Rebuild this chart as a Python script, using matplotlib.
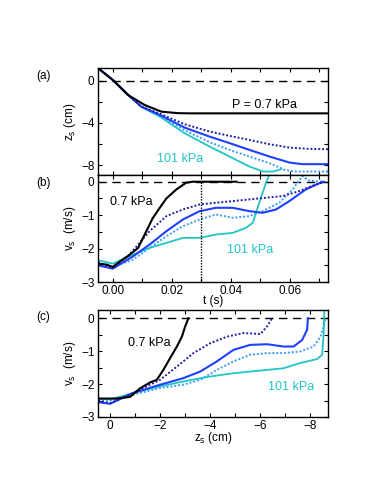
import matplotlib
matplotlib.use("Agg")
import matplotlib.pyplot as plt
import matplotlib.ticker as ticker

# ── data ──────────────────────────────────────────────────────────────────────
# (a) z_s (cm) vs t (s)
t_blk_z = [-0.005, 0.0003, 0.0052, 0.0108, 0.0165, 0.0221, 0.026, 0.073]
z_blk   = [1.2, 0.0, -1.36, -2.3, -2.94, -3.08, -3.1, -3.1]

t_dkd_z = [-0.005, 0.0003, 0.005, 0.0097, 0.0165, 0.0244, 0.0329, 0.0397, 0.0464, 0.0532, 0.060, 0.0668, 0.073]
z_dkd   = [1.2, 0.0, -1.3, -2.45, -3.19, -4.13, -4.83, -5.24, -5.62, -6.03, -6.35, -6.47, -6.5]

t_blu_z = [-0.005, 0.0003, 0.005, 0.0097, 0.0165, 0.0244, 0.0329, 0.0397, 0.0464, 0.0532, 0.060, 0.0643, 0.073]
z_blu   = [1.2, 0.0, -1.3, -2.46, -3.32, -4.45, -5.31, -5.93, -6.57, -7.2, -7.77, -7.92, -7.92]

t_ltd_z = [-0.005, 0.0003, 0.005, 0.0097, 0.0165, 0.0244, 0.0329, 0.0397, 0.0464, 0.0532, 0.0583, 0.0617, 0.073]
z_ltd   = [1.2, 0.0, -1.3, -2.47, -3.41, -4.7, -5.84, -6.57, -7.2, -7.83, -8.46, -8.62, -8.62]

t_cyn_z = [-0.005, 0.0003, 0.005, 0.0097, 0.0165, 0.0244, 0.0329, 0.0374, 0.0419, 0.0464, 0.051, 0.0543, 0.0572]
z_cyn   = [1.2, 0.0, -1.3, -2.48, -3.5, -4.99, -6.26, -6.88, -7.52, -8.15, -8.62, -8.62, -8.4]

# (b) v_s (m/s) vs t (s)
t_blk_v = [-0.005, -0.002, 0.0, 0.003, 0.0055, 0.0086, 0.0114, 0.0135, 0.0158, 0.0182, 0.0216, 0.0249, 0.027, 0.042]
v_blk   = [-2.45, -2.48, -2.55, -2.35, -2.2, -1.98, -1.48, -1.1, -0.8, -0.5, -0.23, -0.03, 0.0, 0.0]

t_dkd_v = [-0.005, 0.0, 0.0055, 0.0125, 0.0182, 0.0238, 0.0295, 0.035, 0.0407, 0.0463, 0.052, 0.0576, 0.0633, 0.069, 0.0723]
v_dkd   = [-2.41, -2.58, -2.2, -1.48, -1.03, -0.83, -0.68, -0.63, -0.58, -0.53, -0.48, -0.43, -0.28, -0.08, 0.0]

t_blu_v = [-0.005, 0.0, 0.0069, 0.0125, 0.0182, 0.0238, 0.0295, 0.035, 0.0407, 0.0463, 0.0508, 0.0554, 0.0599, 0.0655, 0.0712]
v_blu   = [-2.5, -2.6, -2.23, -1.88, -1.48, -1.13, -0.88, -0.78, -0.78, -0.88, -0.93, -0.83, -0.58, -0.23, 0.0]

t_ltd_v = [-0.005, 0.0, 0.0069, 0.0125, 0.0182, 0.0238, 0.0295, 0.035, 0.0407, 0.0463, 0.0508, 0.0565, 0.061, 0.0644, 0.0667, 0.0712]
v_ltd   = [-2.45, -2.55, -2.33, -1.98, -1.63, -1.33, -1.13, -0.98, -1.08, -1.03, -0.88, -0.63, -0.23, 0.17, 0.03, 0.0]

t_cyn_v = [-0.005, 0.0, 0.0069, 0.0125, 0.0182, 0.0238, 0.0295, 0.035, 0.0407, 0.0452, 0.0475, 0.0497, 0.052, 0.0545]
v_cyn   = [-2.35, -2.45, -2.18, -1.98, -1.83, -1.68, -1.68, -1.58, -1.53, -1.38, -1.23, -0.63, -0.03, 0.5]

# (c) v_s (m/s) vs z_s (cm)
z_blk_c = [0.47, -0.27, -0.8, -1.2, -1.6, -1.87, -2.13, -2.4, -2.67, -2.87, -3.0, -3.13]
v_blk_c = [-2.44, -2.44, -2.39, -2.13, -1.95, -1.87, -1.57, -1.21, -0.86, -0.56, -0.25, 0.0]

z_dkd_c = [0.47, 0.0, -0.93, -2.0, -2.67, -3.33, -4.0, -4.67, -5.33, -6.0, -6.27, -6.47]
v_dkd_c = [-2.5, -2.58, -2.27, -1.87, -1.47, -1.06, -0.76, -0.56, -0.45, -0.48, -0.25, 0.0]

z_blu_c = [0.47, 0.0, -0.93, -2.0, -2.93, -3.6, -4.27, -4.93, -5.6, -6.27, -6.93, -7.33, -7.67, -7.87, -7.9]
v_blu_c = [-2.55, -2.6, -2.27, -2.02, -1.82, -1.62, -1.31, -0.96, -0.81, -0.79, -0.86, -0.86, -0.66, -0.35, 0.0]

z_ltd_c = [0.47, 0.0, -0.93, -2.0, -2.93, -3.6, -4.27, -4.93, -5.6, -6.27, -6.93, -7.6, -8.13, -8.4, -8.55, -8.6]
v_ltd_c = [-2.48, -2.5, -2.32, -2.12, -2.02, -1.87, -1.57, -1.31, -1.11, -1.06, -1.06, -1.01, -0.86, -0.56, -0.2, 0.0]

z_cyn_c = [0.47, 0.0, -0.93, -2.0, -2.93, -4.0, -4.93, -5.6, -6.27, -6.93, -7.6, -8.27, -8.47, -8.53, -8.56]
v_cyn_c = [-2.44, -2.47, -2.27, -2.07, -1.92, -1.77, -1.67, -1.62, -1.57, -1.52, -1.36, -1.24, -1.11, -0.45, 0.3]

# ── style ─────────────────────────────────────────────────────────────────────
plt.rcParams.update({
    "font.family":       ["Liberation Sans", "DejaVu Sans"],
    "font.size":         8.5,
    "axes.linewidth":    1.0,
    "xtick.direction":   "in",
    "ytick.direction":   "in",
    "xtick.top":         True,
    "ytick.right":       True,
    "xtick.major.size":  3,
    "ytick.major.size":  3,
    "xtick.major.pad":   2,
    "ytick.major.pad":   2.5,
})

BLACK = "black"
NAVY  = "#2020a8"
BLUE  = "#1f40ff"
LIGHT = "#3a9cff"
CYAN  = "#22c4c4"
DOTS  = (0, (1, 1))

fig = plt.figure(figsize=(3.82, 4.94), dpi=100)
L, W, H = 0.2565, 0.602, 0.2166
ax_a = fig.add_axes([L, 0.6457, W, H])
ax_b = fig.add_axes([L, 0.4291, W, H])
ax_c = fig.add_axes([L, 0.1559, W, H])

def dashed_zero(ax):
    ax.axhline(0, color="black", linestyle=(0, (6, 4)), linewidth=1.0, zorder=1)

def draw(ax, xs):
    (x0, y0, x1, y1, x2, y2, x3, y3, x4, y4) = xs
    ax.plot(x3, y3, color=LIGHT, linestyle=DOTS, linewidth=1.4)
    ax.plot(x4, y4, color=CYAN, linewidth=1.3)
    ax.plot(x2, y2, color=BLUE, linewidth=1.5)
    ax.plot(x1, y1, color=NAVY, linestyle=DOTS, linewidth=1.4)
    ax.plot(x0, y0, color=BLACK, linewidth=1.5)

def int_fmt(v, p):
    if abs(v - round(v)) > 1e-6:
        return ""
    return f"{int(round(v))}".replace("-", "\u2212")

# ── (a) ───────────────────────────────────────────────────────────────────────
dashed_zero(ax_a)
draw(ax_a, (t_blk_z, z_blk, t_dkd_z, z_dkd, t_blu_z, z_blu,
            t_ltd_z, z_ltd, t_cyn_z, z_cyn))
ax_a.set_xlim(-0.005, 0.073)
ax_a.set_ylim(-8.95, 1.2)
ax_a.set_yticks([0, -2, -4, -6, -8])
ax_a.set_yticklabels(["0", "", "\u22124", "", "\u22128"])
ax_a.xaxis.set_major_locator(ticker.MultipleLocator(0.01))
ax_a.set_xticklabels([])
ax_a.set_ylabel(r"z$_\mathrm{s}$ (cm)", labelpad=2)
ax_a.text(0.0403, -2.3, "P = 0.7 kPa", ha="left", va="center", fontsize=9)
ax_a.text(0.0149, -7.42, "101 kPa", ha="left", va="center", fontsize=9, color=CYAN)

# ── (b) ───────────────────────────────────────────────────────────────────────
dashed_zero(ax_b)
draw(ax_b, (t_blk_v, v_blk, t_dkd_v, v_dkd, t_blu_v, v_blu,
            t_ltd_v, v_ltd, t_cyn_v, v_cyn))
ax_b.plot([0.03, 0.03], [0, -3], color="black", linestyle=DOTS, linewidth=1.0)
ax_b.set_xlim(-0.005, 0.073)
ax_b.set_ylim(-3, 0.2)
ax_b.yaxis.set_major_locator(ticker.MultipleLocator(0.5))
ax_b.yaxis.set_major_formatter(ticker.FuncFormatter(int_fmt))
ax_b.xaxis.set_major_locator(ticker.MultipleLocator(0.01))
ax_b.xaxis.set_major_formatter(ticker.FuncFormatter(
    lambda v, p: f"{v:.2f}" if round(v * 100) % 2 == 0 else ""))
ax_b.set_xlabel("t (s)", labelpad=-1)
ax_b.set_ylabel(r"v$_\mathrm{s}$  (m/s)", labelpad=2)
ax_b.text(-0.001, -0.62, "0.7 kPa", ha="left", va="center", fontsize=9)
ax_b.text(0.0386, -2.03, "101 kPa", ha="left", va="center", fontsize=9, color=CYAN)

# ── (c) ───────────────────────────────────────────────────────────────────────
dashed_zero(ax_c)
draw(ax_c, (z_blk_c, v_blk_c, z_dkd_c, v_dkd_c, z_blu_c, v_blu_c,
            z_ltd_c, v_ltd_c, z_cyn_c, v_cyn_c))
ax_c.set_xlim(0.48, -8.7)
ax_c.set_ylim(-3, 0.25)
ax_c.yaxis.set_major_locator(ticker.MultipleLocator(0.5))
ax_c.yaxis.set_major_formatter(ticker.FuncFormatter(int_fmt))
ax_c.xaxis.set_major_locator(ticker.MultipleLocator(1))
ax_c.xaxis.set_major_formatter(ticker.FuncFormatter(
    lambda v, p: int_fmt(v, p) if int(round(v)) % 2 == 0 else ""))
ax_c.set_xlabel(r"z$_\mathrm{s}$ (cm)", labelpad=-1)
ax_c.set_ylabel(r"v$_\mathrm{s}$  (m/s)", labelpad=2)
ax_c.text(-0.72, -0.76, "0.7 kPa", ha="left", va="center", fontsize=9)
ax_c.text(-6.3, -2.09, "101 kPa", ha="left", va="center", fontsize=9, color=CYAN)

# panel letters
for ax, lab in ((ax_a, "(a)"), (ax_b, "(b)"), (ax_c, "(c)")):
    ax.text(-0.27, 0.93, lab, transform=ax.transAxes, ha="left", va="center", fontsize=8.5)

fig.savefig("out.png", dpi=100)
